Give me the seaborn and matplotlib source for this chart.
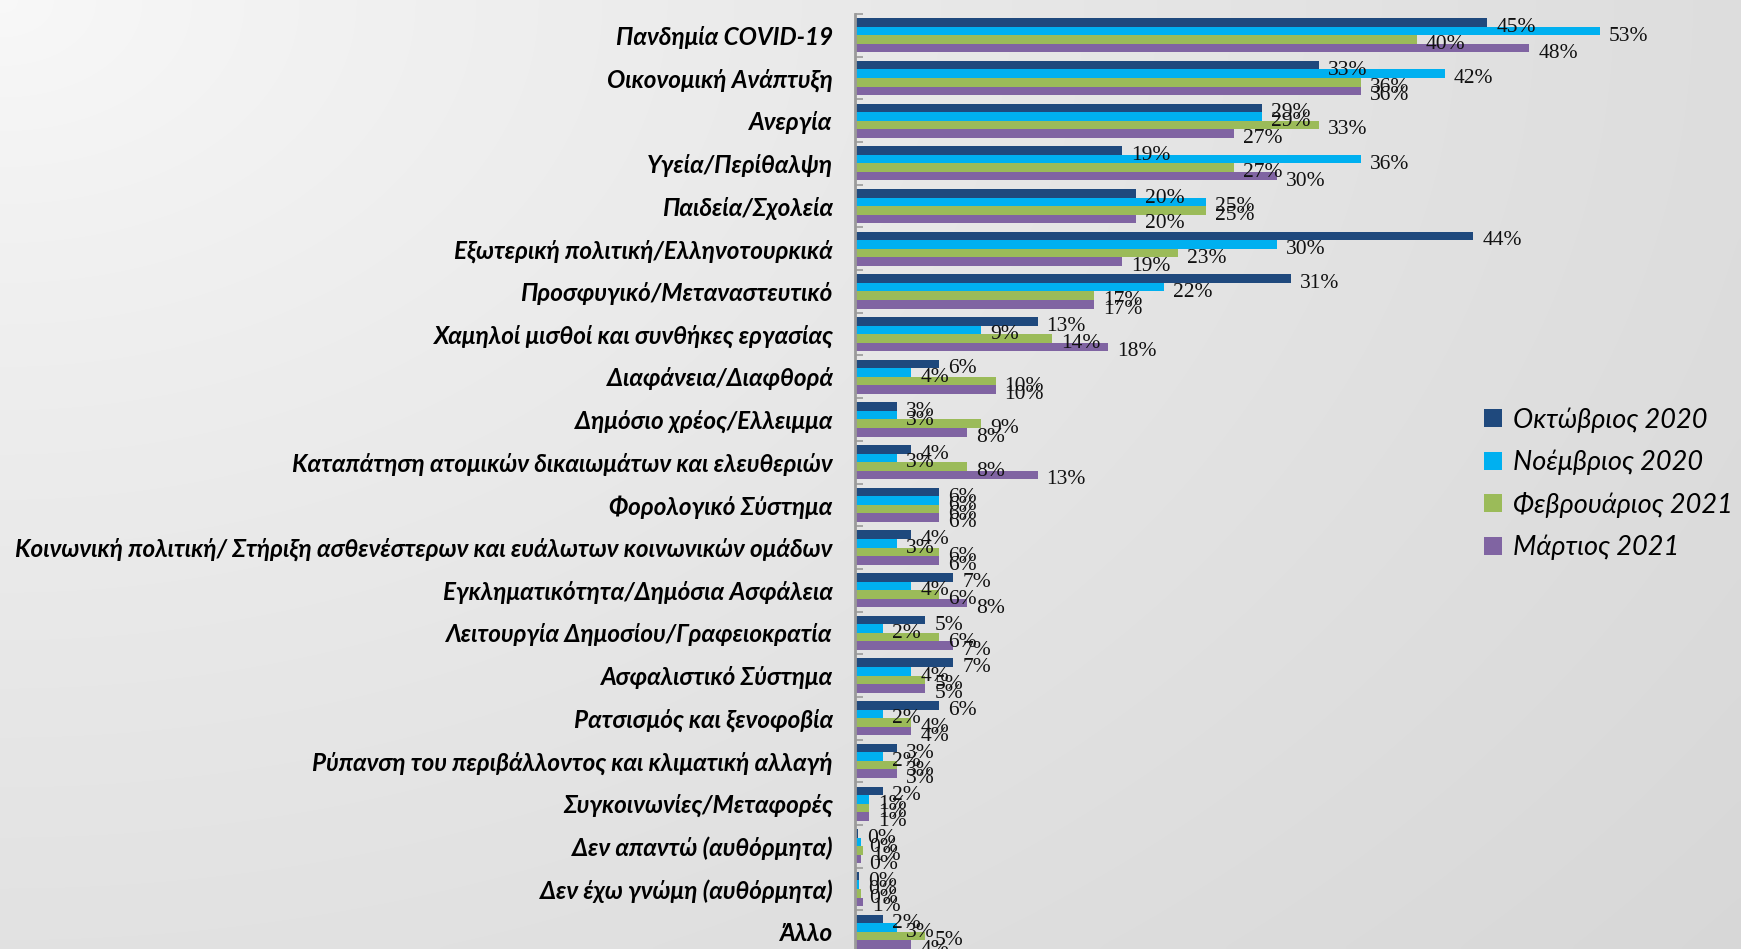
import numpy as np
import pandas as pd
import matplotlib
matplotlib.use("Agg")
import matplotlib.pyplot as plt
import seaborn as sns
from matplotlib.patches import Patch

categories = [
    "Πανδημία COVID-19",
    "Οικονομική Ανάπτυξη",
    "Ανεργία",
    "Υγεία/Περίθαλψη",
    "Παιδεία/Σχολεία",
    "Εξωτερική πολιτική/Ελληνοτουρκικά",
    "Προσφυγικό/Μεταναστευτικό",
    "Χαμηλοί μισθοί και συνθήκες εργασίας",
    "Διαφάνεια/Διαφθορά",
    "Δημόσιο χρέος/Ελλειμμα",
    "Καταπάτηση ατομικών δικαιωμάτων και ελευθεριών",
    "Φορολογικό Σύστημα",
    "Κοινωνική πολιτική/ Στήριξη ασθενέστερων και ευάλωτων κοινωνικών ομάδων",
    "Εγκληματικότητα/Δημόσια Ασφάλεια",
    "Λειτουργία Δημοσίου/Γραφειοκρατία",
    "Ασφαλιστικό Σύστημα",
    "Ρατσισμός και ξενοφοβία",
    "Ρύπανση του περιβάλλοντος και κλιματική αλλαγή",
    "Συγκοινωνίες/Μεταφορές",
    "Δεν απαντώ (αυθόρμητα)",
    "Δεν έχω γνώμη (αυθόρμητα)",
    "Άλλο",
]

series_names = ["Οκτώβριος 2020", "Νοέμβριος 2020", "Φεβρουάριος 2021", "Μάρτιος 2021"]

oct_2020 = [45, 33, 29, 19, 20, 44, 31, 13, 6, 3, 4, 6, 4, 7, 5, 7, 6, 3, 2, 0.2, 0.3, 2]
nov_2020 = [53, 42, 29, 36, 25, 30, 22, 9, 4, 3, 3, 6, 3, 4, 2, 4, 2, 2, 1, 0.4, 0.3, 3]
feb_2021 = [40, 36, 33, 27, 25, 23, 17, 14, 10, 9, 8, 6, 6, 6, 6, 5, 4, 3, 1, 0.6, 0.4, 5]
mar_2021 = [48, 36, 27, 30, 20, 19, 17, 18, 10, 8, 13, 6, 6, 8, 7, 5, 4, 3, 1, 0.4, 0.6, 4]

colors = ["#1F497D", "#00B0F0", "#9BBB59", "#8064A2"]

values = [oct_2020, nov_2020, feb_2021, mar_2021]
df = pd.DataFrame({
    "cat": np.tile(categories, 4),
    "series": np.repeat(series_names, len(categories)),
    "value": np.concatenate(values),
})

W, H = 1741, 949
fig = plt.figure(figsize=(W / 100, H / 100), dpi=100)

# background gradient
bg = fig.add_axes([0, 0, 1, 1], zorder=-10)
yy, xx = np.mgrid[0:1:200j, 0:1:360j]
d = np.sqrt((xx * 1.0) ** 2 + (yy * 0.8) ** 2) / np.sqrt(1 + 0.64)
shade = 0.975 - 0.13 * np.clip(d, 0, 1) ** 0.8
bg.imshow(np.dstack([shade] * 3), aspect="auto", extent=[0, 1, 1, 0], interpolation="bicubic")
bg.set_axis_off()

px = 14.05
left = 855
ax = fig.add_axes([left / W, -4 / H, 1 - left / W, (953 - 14) / H])
ax.patch.set_alpha(0)

sns.barplot(data=df, y="cat", x="value", hue="series", orient="h",
            palette=colors, width=0.8, ax=ax, legend=False, saturation=1,
            edgecolor="none")

ax.set_xlim(0, (W - left) / px)
ax.set_ylim(len(categories) - 0.5, -0.5)
ax.set_xlabel("")
ax.set_ylabel("")
ax.set_xticks([])

for sp in ["top", "right", "bottom"]:
    ax.spines[sp].set_visible(False)
ax.spines["left"].set_color("#9a9a9a")
ax.spines["left"].set_linewidth(2)

ax.set_yticks(range(len(categories)))
ax.set_yticklabels(categories, fontsize=17.5, fontweight="bold", fontstyle="italic",
                   family=["Liberation Sans Narrow", "Lato", "DejaVu Sans"])
ax.tick_params(axis="y", length=0, pad=16)
ax.set_yticks(np.arange(-0.5, len(categories), 1), minor=True)
ax.tick_params(axis="y", which="minor", direction="in", length=6, color="#9a9a9a", width=1.2)

for cont, vals in zip(ax.containers, values):
    for patch, v in zip(cont.patches, vals):
        yc = patch.get_y() + patch.get_height() / 2
        ax.annotate(f"{v:.0f}%", xy=(patch.get_width(), yc), xytext=(9, -5),
                    textcoords="offset pixels", va="center", ha="left",
                    fontsize=15.5, family=["Liberation Serif", "DejaVu Serif"], color="#111111")

handles = [Patch(facecolor=c, edgecolor="none") for c in colors]
fig.legend(handles, series_names, loc="upper left",
           bbox_to_anchor=(1460 / W, 1 - 383 / H), frameon=False,
           prop={"family": ["Lato", "DejaVu Sans"], "style": "italic", "size": 19.5},
           handlelength=0.65, handleheight=0.65, handletextpad=0.4, labelspacing=0.62)

fig.savefig("out.png", dpi=100)
